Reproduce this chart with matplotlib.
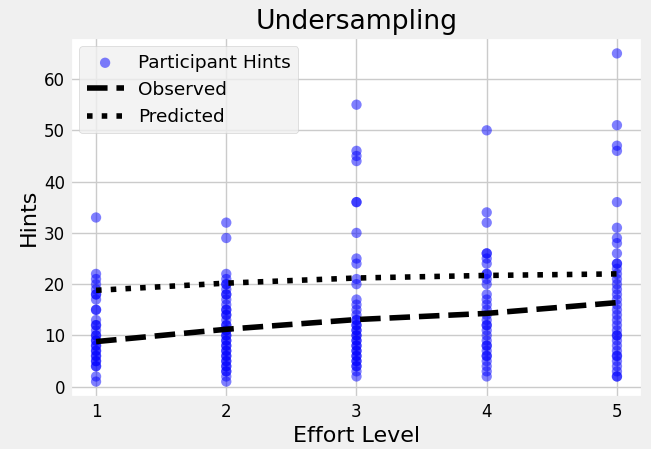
import matplotlib
matplotlib.use("Agg")
import matplotlib.pyplot as plt
import numpy as np

plt.style.use("fivethirtyeight")

effort_levels = [1, 2, 3, 4, 5]
hints_level1 = [33, 22, 21, 20, 19, 18, 18, 17, 15, 15, 13, 12, 12, 11, 10, 10, 9, 9, 8, 8, 7, 7, 6, 6, 5, 5, 4, 4, 2, 1]
hints_level2 = [32, 29, 22, 21, 20, 20, 19, 18, 18, 17, 16, 15, 15, 14, 14, 13, 12, 12, 11, 11, 10, 10, 9, 9, 8, 8, 7, 7, 6, 6, 5, 5, 4, 4, 3, 3, 2, 1]
hints_level3 = [55, 46, 45, 44, 36, 36, 30, 25, 24, 21, 20, 17, 16, 15, 14, 13, 13, 12, 12, 11, 11, 10, 10, 9, 9, 8, 8, 7, 7, 6, 6, 5, 5, 4, 4, 3, 2]
hints_level4 = [50, 34, 32, 26, 26, 25, 24, 22, 22, 21, 20, 18, 17, 16, 15, 14, 13, 12, 12, 11, 10, 9, 8, 8, 7, 6, 6, 5, 4, 3, 2]
hints_level5 = [65, 51, 47, 46, 36, 31, 29, 28, 26, 24, 24, 23, 22, 21, 20, 19, 18, 17, 16, 15, 14, 13, 12, 11, 10, 10, 9, 8, 7, 6, 6, 5, 4, 3, 2, 2]
observed_line = [8.8, 11.2, 13.1, 14.3, 16.4]
predicted_line = [18.8, 20.2, 21.2, 21.7, 22.0]

all_hints = [hints_level1, hints_level2, hints_level3, hints_level4, hints_level5]
xs = np.concatenate([[lvl] * len(h) for lvl, h in zip(effort_levels, all_hints)])
ys = np.concatenate(all_hints)

fig = plt.figure(figsize=(6.51, 4.49), dpi=100)
fig.patch.set_facecolor("#f0f0f0")
ax = fig.add_axes([70/651, 1-398/449, (643-70)/651, (398-37)/449])
ax.set_facecolor("white")

ax.scatter(xs, ys, s=55, color="blue", alpha=0.5, edgecolors="none", label="Participant Hints")
ax.plot(effort_levels, observed_line, "k--", lw=4, label="Observed")
ax.plot(effort_levels, predicted_line, "k:", lw=4, label="Predicted")

ax.set_xticks(effort_levels)
ax.set_title("Undersampling", fontsize=19.2)
ax.set_xlabel("Effort Level", fontsize=16)
ax.set_ylabel("Hints", fontsize=16)
ax.tick_params(labelsize=12)
ax.grid(True, color="#cbcbcb")
leg = ax.legend(loc="upper left", fontsize=13.3, facecolor="#f0f0f0", framealpha=0.8)
fig.savefig("out.png", dpi=100, facecolor=fig.get_facecolor())
